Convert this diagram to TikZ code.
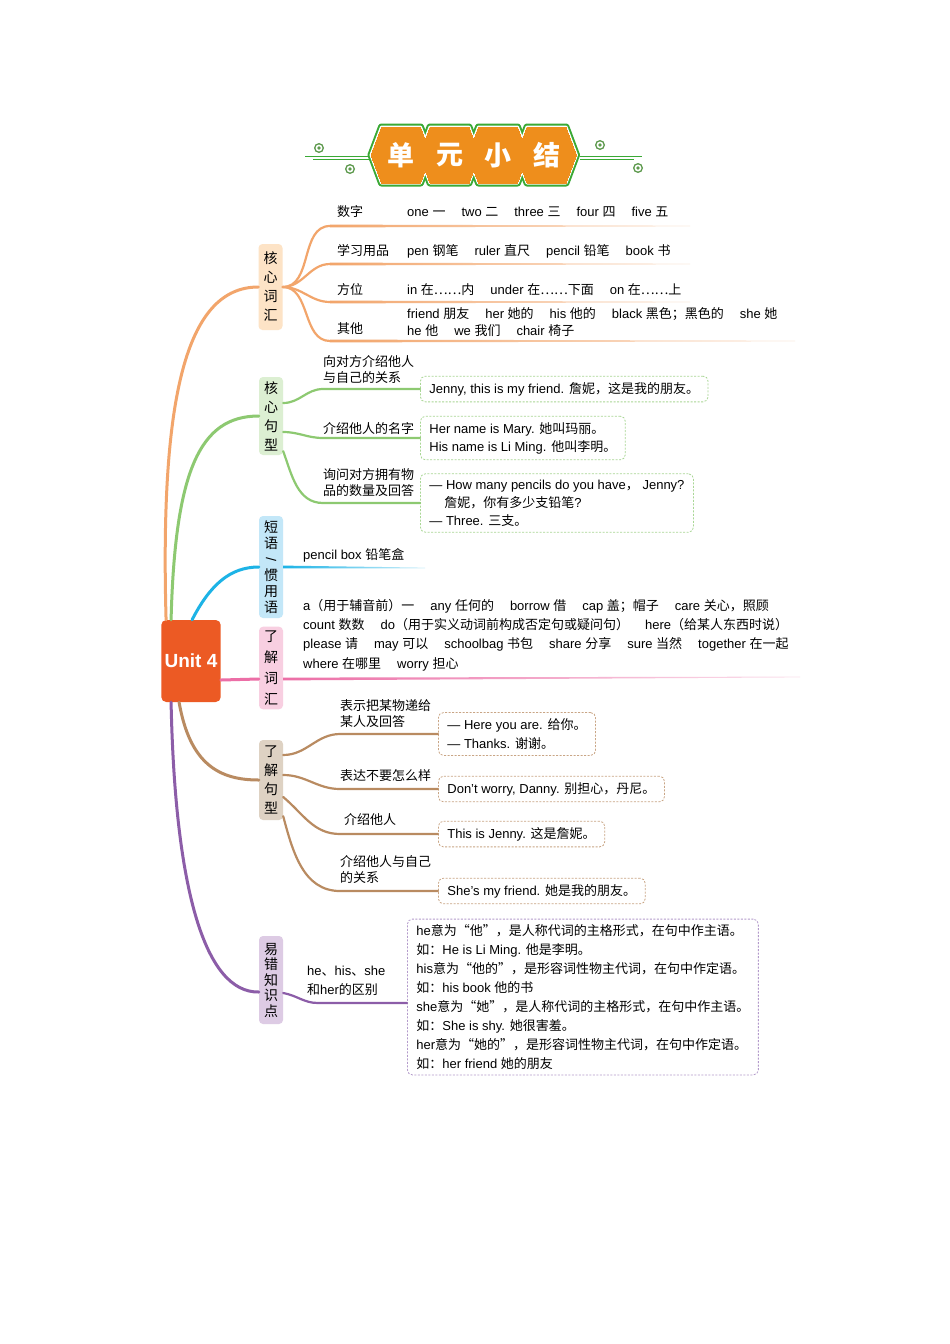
\documentclass[tikz,border=0pt]{standalone}
\usepackage{fontspec}
\usepackage{graphicx}
\setmainfont{Liberation Sans}
\newfontfamily\latinfont{Liberation Sans}
\newfontfamily\cjkfont{Noto Sans CJK SC}
\usetikzlibrary{calc}

% Chinese characters switch to the CJK font by themselves
\XeTeXinterchartokenstate=1
\newXeTeXintercharclass\cjkclass
\newcount\cjkcnt
\newcommand\setcjkrange[2]{\cjkcnt=#1\relax
  \loop\XeTeXcharclass\cjkcnt=\cjkclass\relax
    \advance\cjkcnt by 1\relax
  \ifnum\cjkcnt<#2\relax\repeat}
\setcjkrange{"4E00}{"A000}
\setcjkrange{"3000}{"3040}
\setcjkrange{"FF00}{"FFF0}
\XeTeXcharclass"2026=\cjkclass
\XeTeXcharclass"201C=\cjkclass
\XeTeXcharclass"201D=\cjkclass
\XeTeXinterchartoks 0 \cjkclass={\cjkfont}
\XeTeXinterchartoks 4095 \cjkclass={\cjkfont}
\XeTeXinterchartoks \cjkclass 0={\latinfont}
\XeTeXinterchartoks \cjkclass 4095={\latinfont}
\XeTeXinterchartoks 4095 0={\latinfont}

\definecolor{ttlorange}{HTML}{EE8E1C}
\definecolor{ttlgreen}{HTML}{3AA935}
\definecolor{ttldeco}{HTML}{5E9A4E}
\definecolor{unitred}{HTML}{EC5A24}
\definecolor{brOrange}{HTML}{F2A56B}
\definecolor{brGreen}{HTML}{8DC971}
\definecolor{brBlue}{HTML}{1DB3E6}
\definecolor{brPink}{HTML}{EC6EA6}
\definecolor{brBrown}{HTML}{B98B61}
\definecolor{brPurple}{HTML}{8C5DA8}
\definecolor{fOrange}{HTML}{FDE3C6}
\definecolor{fGreen}{HTML}{DCEFD2}
\definecolor{fBlue}{HTML}{C3E7F8}
\definecolor{fPink}{HTML}{F8CFE1}
\definecolor{fBrown}{HTML}{DED2C3}
\definecolor{fPurple}{HTML}{DDCBE4}
\definecolor{bxGreen}{HTML}{A9D795}
\definecolor{bxBrown}{HTML}{C9A585}
\definecolor{bxPurple}{HTML}{B39ACB}

\newcommand\itemgap{\hspace{16pt}}
% thin fading line between two named points
\newcommand\taper[3]{\shade[left color=#1, right color=#1!20]
  ($(#2)+(0,-1.4)$) -- ($(#3)+(0,-0.4)$) -- ($(#3)+(0,0.4)$) -- ($(#2)+(0,1.4)$) -- cycle;}

\begin{document}
\begin{tikzpicture}[x=1pt,y=-1pt,
  catbox/.style={fill=#1, rounded corners=4pt, minimum width=24pt, inner xsep=4pt,
    inner ysep=4pt, align=center, font=\fontsize{14}{19}\selectfont},
  leaf/.style={anchor=west, inner sep=0pt, align=left, font=\fontsize{13}{17}\selectfont},
  notebox/.style={draw=#1, dash pattern=on 2pt off 1.5pt, rounded corners=5pt,
    line width=0.8pt, anchor=west, inner xsep=9pt, inner ysep=6pt, align=left,
    font=\fontsize{13}{18}\selectfont},
  branch/.style={line width=2.2pt, #1, line cap=round},
  trunk/.style={line width=3pt, #1, line cap=round}]

\fill[white] (0,0) rectangle (950,1344);
\useasboundingbox (0,0) rectangle (950,1344);

% Titel
\foreach \lw/\col in {7pt/ttlgreen,3pt/white,0pt/ttlorange}
  \foreach \cx in {401,449.5,498,546.5}
    \filldraw[\col, line width=\lw, line join=round] ({\cx-30},155) -- ({\cx-19.5},127)
      -- ({\cx+19.5},127) -- ({\cx+30},155) -- ({\cx+19.5},183) -- ({\cx-19.5},183) -- cycle;
\foreach \cx/\ch/\nm in {401/单/t1,449.5/元/t2,498/小/t3,546.5/结/t4}
  \node[text=white, font=\fontsize{27}{27}\selectfont\bfseries] (\nm) at (\cx,155) {\ch};
\draw[ttlgreen, line width=0.8pt] (305,156) -- (369,156);
\draw[ttlgreen, line width=0.8pt] (313,159.5) -- (369,159.5);
\draw[ttlgreen, line width=0.8pt] (580,156) -- (642,156);
\draw[ttlgreen, line width=0.8pt] (580,159.5) -- (634,159.5);
\foreach \p in {(319,148),(350,169),(600,145),(638,168)} {
  \draw[ttldeco, line width=1.3pt] \p circle (4.3pt);
  \fill[ttldeco] \p circle (1.8pt);
}

% Mitte und Hauptzweige
\node[fill=unitred, rounded corners=5pt, minimum width=58pt, minimum height=82pt,
  text=white, font=\fontsize{19}{19}\selectfont\bfseries] (unit) at (191,661) {Unit 4};

\node[catbox=fOrange, minimum height=86pt] (kxch) at (270.5,287) {核\\心\\词\\汇};
\node[catbox=fGreen, minimum height=78pt] (kxjx) at (271,416) {核\\心\\句\\型};
\node[catbox=fBlue, minimum height=102pt, font=\fontsize{14}{16}\selectfont] (dyu) at (271,567)
  {短\\语\\\rotatebox[origin=c]{90}{/}\\惯\\用\\语};
\node[catbox=fPink, minimum height=80pt, font=\fontsize{14}{21}\selectfont] (ljch) at (271,668) {了\\解\\词\\汇};
\node[catbox=fBrown, minimum height=80pt] (ljjx) at (271,780) {了\\解\\句\\型};
\node[catbox=fPurple, minimum height=88pt, font=\fontsize{14}{15.5}\selectfont] (yczs) at (271,980) {易\\错\\知\\识\\点};

\draw[trunk=brOrange] ([xshift=5pt]unit.north west) .. controls (160,400) and (185,287) .. (kxch.west);
\draw[trunk=brGreen] ([xshift=10pt]unit.north west) .. controls (175,470) and (200,416) .. (kxjx.west);
\draw[trunk=brBlue] ([xshift=31pt]unit.north west) .. controls (210,585) and (230,567) .. (dyu.west);
\draw[trunk=brPink] ([yshift=-19pt]unit.east) -- ([yshift=-11pt]ljch.west);
\draw[trunk=brBrown] ([xshift=18pt]unit.south west) .. controls (190,765) and (220,780) .. (ljjx.west);
\draw[trunk=brPurple] ([xshift=10pt]unit.south west) .. controls (175,890) and (205,993) .. ([yshift=-12pt]yczs.west);

% 核心词汇
\foreach \r/\y/\xe in {1/226/690,2/264/690,3/302/690,4/341/795} {
  \coordinate (r\r) at (330,\y);
  \coordinate (e\r) at (\xe,\y);
  \draw[branch=brOrange] (kxch.east) to[out=0,in=180] (r\r);
  \taper{brOrange}{r\r}{e\r}
}
\node[leaf] (szk) at (337,212) {数字};
\node[leaf] (szv) at (407,212) {one 一\itemgap two 二\itemgap three 三\itemgap four 四\itemgap five 五};
\node[leaf] (xxk) at (337,251) {学习用品};
\node[leaf] (xxv) at (407,251) {pen 钢笔\itemgap ruler 直尺\itemgap pencil 铅笔\itemgap book 书};
\node[leaf] (fwk) at (337,290) {方位};
\node[leaf] (fwv) at (407,290) {in 在……内\itemgap under 在……下面\itemgap on 在……上};
\node[leaf] (qtk) at (337,329) {其他};
\node[leaf] (qtv) at (407,322) {friend 朋友\itemgap her 她的\itemgap his 他的\itemgap black 黑色；黑色的\itemgap she 她\\
  he 他\itemgap we 我们\itemgap chair 椅子};

% 核心句型
\node[notebox=bxGreen] (jb1) at (420,389) {Jenny, this is my friend. 詹妮，这是我的朋友。};
\node[notebox=bxGreen] (jb2) at (420,438) {Her name is Mary. 她叫玛丽。\\His name is Li Ming. 他叫李明。};
\node[notebox=bxGreen] (jb3) at (420,503) {— How many pencils do you have， Jenny?\\
  \hspace*{15pt}詹妮，你有多少支铅笔?\\— Three. 三支。};
\coordinate (g1) at (323,389);
\coordinate (g2) at (323,438);
\coordinate (g3) at (323,503);
\draw[branch=brGreen] ([yshift=13pt]kxjx.east) to[out=0,in=180] (g1) -- (jb1.west);
\draw[branch=brGreen] ([yshift=-16pt]kxjx.east) to[out=0,in=180] (g2) -- (jb2.west);
\draw[branch=brGreen] ([yshift=4pt]kxjx.south east) to[out=-70,in=180] (g3) -- (jb3.west);
\node[leaf, font=\fontsize{13}{16}\selectfont] (jt1) at (323,370) {向对方介绍他人\\与自己的关系};
\node[leaf] (jt2) at (323,429) {介绍他人的名字};
\node[leaf, font=\fontsize{13}{16}\selectfont] (jt3) at (323,483) {询问对方拥有物\\品的数量及回答};

% 短语/惯用语
\coordinate (de) at (425,568);
\taper{brBlue}{dyu.east}{de}
\node[leaf] (dyt) at (303,555) {pencil box 铅笔盒};

% 了解词汇
\coordinate (ps) at ([yshift=-11pt]ljch.east);
\coordinate (pe) at (800,677);
\taper{brPink}{ps}{pe}
\node[leaf, font=\fontsize{13}{19.3}\selectfont] (ljt) at (303,635)
  {a（用于辅音前）一\itemgap any 任何的\itemgap borrow 借\itemgap cap 盖；帽子\itemgap care 关心，照顾\\
   count 数数\itemgap do（用于实义动词前构成否定句或疑问句）\itemgap here（给某人东西时说）\\
   please 请\itemgap may 可以\itemgap schoolbag 书包\itemgap share 分享\itemgap sure 当然\itemgap together 在一起\\
   where 在哪里\itemgap worry 担心};

% 了解句型
\node[notebox=bxBrown, font=\fontsize{13}{19}\selectfont] (lb1) at (438,734) {— Here you are. 给你。\\— Thanks. 谢谢。};
\node[notebox=bxBrown] (lb2) at (438,789) {Don’t worry, Danny. 别担心，丹尼。};
\node[notebox=bxBrown] (lb3) at (438,834) {This is Jenny. 这是詹妮。};
\node[notebox=bxBrown] (lb4) at (438,891) {She’s my friend. 她是我的朋友。};
\coordinate (b1) at (340,734);
\coordinate (b2) at (340,789);
\coordinate (b3) at (340,834);
\coordinate (b4) at (340,891);
\draw[branch=brBrown] ([yshift=25pt]ljjx.east) to[out=0,in=180] (b1) -- (lb1.west);
\draw[branch=brBrown] ([yshift=5pt]ljjx.east) to[out=0,in=180] (b2) -- (lb2.west);
\draw[branch=brBrown] ([yshift=-17pt]ljjx.east) to[out=-40,in=180] (b3) -- (lb3.west);
\draw[branch=brBrown] ([yshift=4pt]ljjx.south east) to[out=-75,in=180] (b4) -- (lb4.west);
\node[leaf, font=\fontsize{13}{16}\selectfont] (lt1) at (340,714) {表示把某物递给\\某人及回答};
\node[leaf] (lt2) at (340,776) {表达不要怎么样};
\node[leaf] (lt3) at (344,820) {介绍他人};
\node[leaf, font=\fontsize{13}{16}\selectfont] (lt4) at (340,869) {介绍他人与自己\\的关系};

% 易错知识点
\node[notebox=bxPurple, font=\fontsize{13}{19.1}\selectfont, inner ysep=5pt] (ycb) at (407,997)
  {he意为“他”，是人称代词的主格形式，在句中作主语。\\
   如：He is Li Ming. 他是李明。\\
   his意为“他的”，是形容词性物主代词，在句中作定语。\\
   如：his book 他的书\\
   she意为“她”，是人称代词的主格形式，在句中作主语。\\
   如：She is shy. 她很害羞。\\
   her意为“她的”，是形容词性物主代词，在句中作定语。\\
   如：her friend 她的朋友};
\coordinate (yb) at (318,1003);
\draw[branch=brPurple] ([yshift=-13pt]yczs.east) to[out=-10,in=180] (yb) -- ([yshift=-6pt]ycb.west);
\node[leaf, font=\fontsize{13}{19}\selectfont] (yct) at (307,981) {he、his、she\\和her的区别};
\end{tikzpicture}
\end{document}
